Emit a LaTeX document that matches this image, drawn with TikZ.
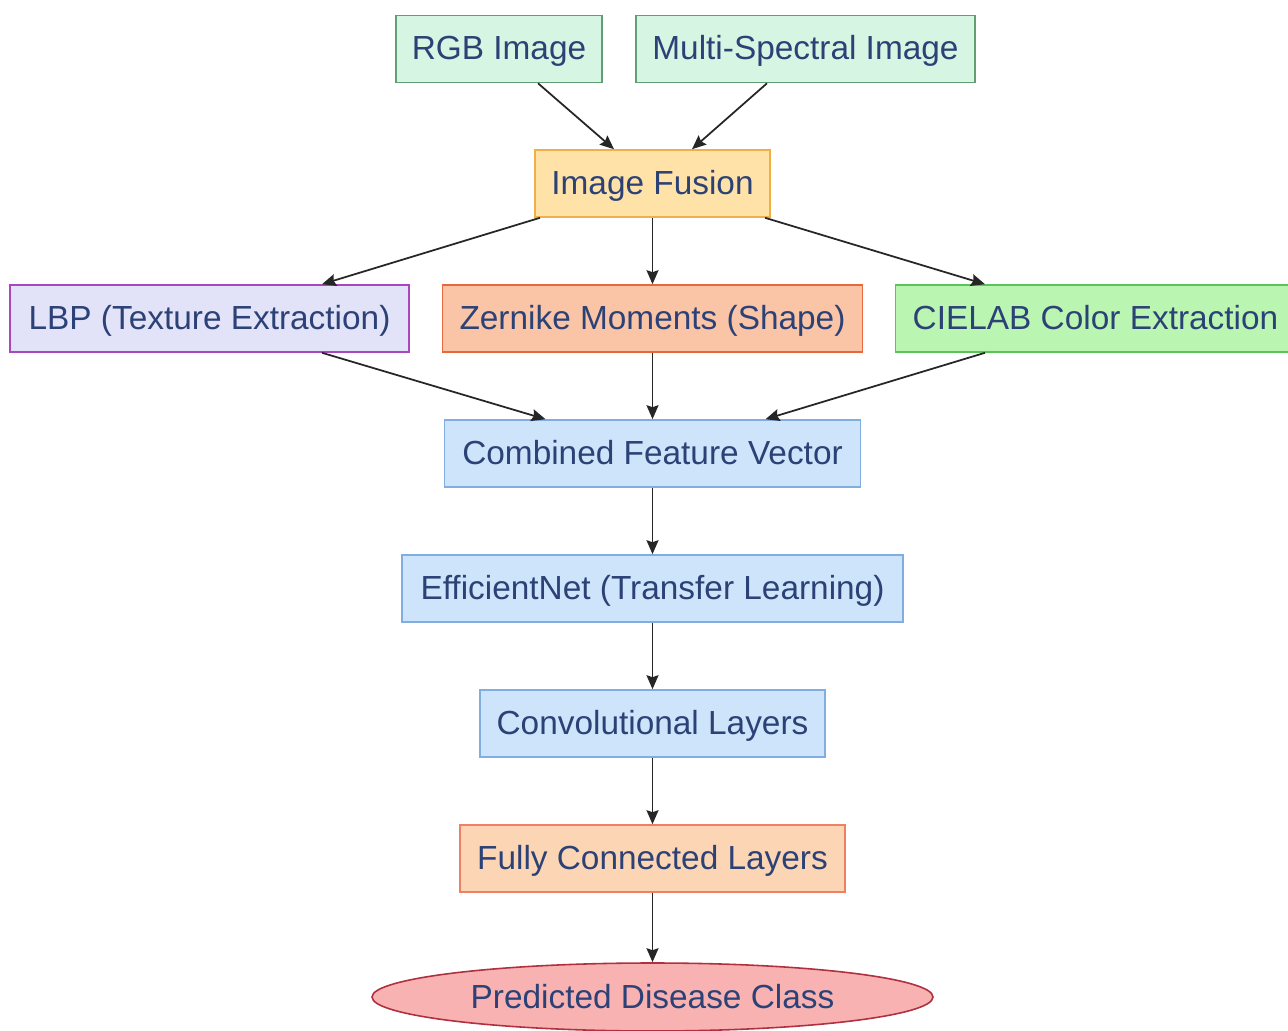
\documentclass[tikz,border=0pt]{standalone}
\usepackage{fontspec}
\setmainfont{Liberation Sans}
\usepackage{tikz}
\usetikzlibrary{shapes.geometric, arrows, arrows.meta}
\usepackage{xcolor}

\definecolor{txtblue}{RGB}{44,66,118}
\definecolor{inputfill}{RGB}{214,245,226}
\definecolor{inputdraw}{RGB}{96,158,116}
\definecolor{fusefill}{RGB}{255,226,168}
\definecolor{fusedraw}{RGB}{240,176,70}
\definecolor{lbpfill}{RGB}{226,226,248}
\definecolor{lbpdraw}{RGB}{170,70,190}
\definecolor{zerfill}{RGB}{250,196,166}
\definecolor{zerdraw}{RGB}{232,104,62}
\definecolor{labfill}{RGB}{186,246,178}
\definecolor{labdraw}{RGB}{90,196,90}
\definecolor{netfill}{RGB}{206,228,250}
\definecolor{netdraw}{RGB}{128,174,224}
\definecolor{fcfill}{RGB}{252,214,180}
\definecolor{fcdraw}{RGB}{240,128,100}
\definecolor{outfill}{RGB}{248,178,178}
\definecolor{outdraw}{RGB}{176,48,64}

\begin{document}
\begin{tikzpicture}[node distance=2.7cm, auto]
    % Define styles
    \tikzstyle{box} = [rectangle, minimum height=1.34cm, text centered, text height=15pt, text depth=2.5pt, line width=0.9pt, text=txtblue, font=\fontsize{19}{23}\selectfont]
    \tikzstyle{input} = [box, draw=inputdraw, fill=inputfill]
    \tikzstyle{fusion} = [box, draw=fusedraw, fill=fusefill]
    \tikzstyle{texture} = [box, draw=lbpdraw, fill=lbpfill]
    \tikzstyle{shapebox} = [box, draw=zerdraw, fill=zerfill]
    \tikzstyle{colorbox} = [box, draw=labdraw, fill=labfill]
    \tikzstyle{network} = [box, draw=netdraw, fill=netfill]
    \tikzstyle{dense} = [box, draw=fcdraw, fill=fcfill]
    \tikzstyle{output} = [ellipse, minimum width=11.22cm, minimum height=1.36cm, inner sep=0pt, text centered, line width=0.9pt, draw=outdraw, fill=outfill, text=txtblue, font=\fontsize{19}{23}\selectfont]
    \tikzstyle{arrow} = [line width=1pt, black!85, -{Stealth[length=2.8mm, width=2.4mm, inset=0.4mm]}]

    \useasboundingbox (0,0) rectangle (25.76,-20.62);

    % Nodes
    \node (rgb) [input, minimum width=4.12cm] at (9.98,-0.98) {RGB Image};
    \node (multi) [input, minimum width=6.78cm] at (16.11,-0.98) {Multi-Spectral Image};
    \node (fusion) [fusion, minimum width=4.7cm] at (13.05,-3.67) {Image Fusion};
    \node (lbp) [texture, minimum width=7.98cm] at (4.19,-6.37) {LBP (Texture Extraction)};
    \node (zernike) [shapebox, minimum width=8.4cm, below of=fusion] {Zernike Moments (Shape)};
    \node (cielab) [colorbox, minimum width=8cm] at (21.91,-6.37) {CIELAB Color Extraction};
    \node (combined) [network, minimum width=8.32cm, below of=zernike] {Combined Feature Vector};
    \node (effnet) [network, minimum width=10.02cm, below of=combined] {EfficientNet (Transfer Learning)};
    \node (conv) [network, minimum width=6.9cm, below of=effnet] {Convolutional Layers};
    \node (fc) [dense, minimum width=7.7cm, below of=conv] {Fully Connected Layers};
    \node (pred) [output, below of=fc, yshift=-0.07cm] {Predicted Disease Class};

    % Arrows
    \draw [arrow] ([xshift=0.78cm]rgb.south) -- ([xshift=-0.77cm]fusion.north);
    \draw [arrow] ([xshift=-0.77cm]multi.south) -- ([xshift=0.79cm]fusion.north);
    \draw [arrow] ([xshift=-2.25cm]fusion.south) -- ([xshift=2.25cm]lbp.north);
    \draw [arrow] (fusion) -- (zernike);
    \draw [arrow] ([xshift=2.25cm]fusion.south) -- ([xshift=-2.21cm]cielab.north);
    \draw [arrow] ([xshift=2.25cm]lbp.south) -- ([xshift=-2.14cm]combined.north);
    \draw [arrow] (zernike) -- (combined);
    \draw [arrow] ([xshift=-2.21cm]cielab.south) -- ([xshift=2.26cm]combined.north);
    \draw [arrow] (combined) -- (effnet);
    \draw [arrow] (effnet) -- (conv);
    \draw [arrow] (conv) -- (fc);
    \draw [arrow] (fc) -- (pred);
\end{tikzpicture}
\end{document}
